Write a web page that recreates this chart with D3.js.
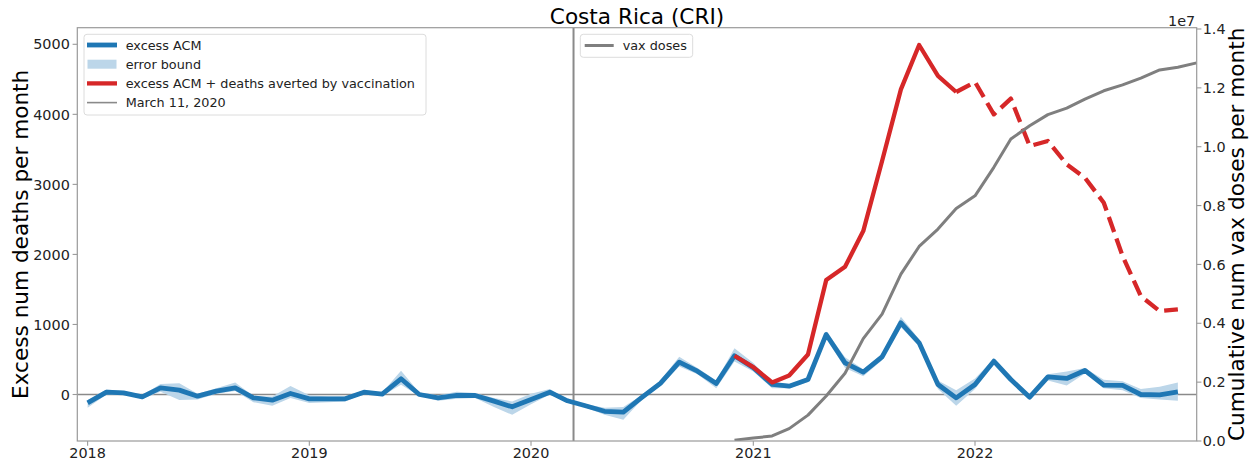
<!DOCTYPE html>
<html>
<head>
<meta charset="utf-8">
<script src="https://cdn.jsdelivr.net/npm/d3@7"></script>
<style>
  body { margin: 0; background: #fff; }
  svg { display: block; font-family: "DejaVu Sans", sans-serif; }
</style>
</head>
<body>
<svg id="chart" width="1259" height="466"></svg>
<script>
// ---------------- data ----------------
const monthsStart = "2018-01"; // monthly series start
const excessACM = [
  -119, 33, 24, -33, 95, 62, -24, 48, 95, -48, -81, 14,
  -62, -62, -62, 33, 5, 224, 0, -48, -14, -14, -95, -176,
  -71, 33, -90, -165, -240, -252, -45, 160, 462, 333, 157, 553,
  381, 143, 119, 214, 857, 452, 319, 538, 1024, 738, 143, -48,
  143, 476, 214, -38, 252, 229, 343, 133, 129, 0, -5, 38
];
const errLow = [
  -190, 0, 0, -60, 40, -80, -70, 10, 50, -110, -160, -50,
  -120, -110, -100, 10, -20, 140, -20, -90, -60, -50, -180, -290,
  -140, 0, -110, -190, -290, -360, -80, 120, 400, 290, 90, 470,
  330, 90, 90, 180, 800, 380, 260, 490, 960, 690, 80, -160,
  80, 440, 180, -70, 200, 130, 300, 90, 60, -50, -70, -90
];
const errHigh = [
  -80, 70, 50, -10, 150, 160, 10, 90, 170, -20, -30, 120,
  -10, -30, -30, 60, 30, 340, 30, -10, 40, 20, -50, -100,
  10, 80, -70, -140, -190, -180, -10, 200, 540, 380, 200, 660,
  450, 180, 150, 240, 900, 530, 360, 580, 1110, 790, 200, 60,
  230, 510, 250, -10, 290, 330, 380, 210, 190, 80, 110, 170
];
// excess ACM + deaths averted by vaccination (solid part, Dec 2020 - Dec 2021)
const avertedSolidStart = "2020-12";
const avertedSolid = [553, 390, 172, 271, 571, 1633, 1824, 2333, 3333, 4357, 4990, 4548, 4319];
// dashed part (Dec 2021 - Dec 2022)
const avertedDashedStart = "2021-12";
const avertedDashed = [4319, 4462, 4000, 4224, 3548, 3619, 3286, 3095, 2738, 1976, 1405, 1190, 1214];
// cumulative vax doses (Dec 2020 - Jan 2023)
const vaxStart = "2020-12";
const vaxDoses = [
  30000, 100000, 170000, 420000, 880000, 1530000, 2300000, 3480000, 4310000,
  5670000, 6610000, 7200000, 7900000, 8330000, 9300000, 10260000, 10710000,
  11090000, 11310000, 11620000, 11900000, 12100000, 12330000, 12610000,
  12700000, 12850000
];
const marchDate = "2020-03-11";
const leftTicks = [0, 1000, 2000, 3000, 4000, 5000];
const rightTicks = [0, 2e6, 4e6, 6e6, 8e6, 10e6, 12e6, 14e6];
const rightTickLabels = ["0.0", "0.2", "0.4", "0.6", "0.8", "1.0", "1.2", "1.4"];
const xTickYears = [2018, 2019, 2020, 2021, 2022];
const titleText = "Costa Rica (CRI)";
const legend1Labels = ["excess ACM", "error bound", "excess ACM + deaths averted by vaccination", "March 11, 2020"];
const legend2Labels = ["vax doses"];

// ---------------- helpers ----------------
function monthSeries(start, values) {
  const [y, m] = start.split("-").map(Number);
  return values.map((v, i) => ({ date: new Date(Date.UTC(y, m - 1 + i, 1)), v }));
}

// ---------------- layout ----------------
const L = 77.3, R = 1196.7, T = 27.7, B = 441;
const svg = d3.select("#chart");

const x = d3.scaleUtc()
  .domain([new Date(Date.UTC(2017, 11, 15)), new Date(Date.UTC(2023, 0, 1))])
  .range([L, R]);
const y = d3.scaleLinear().domain([-664, 5237]).range([B, T]);
const y2 = d3.scaleLinear().domain([0, 1.4044e7]).range([B, T]);

const BLUE = "#1f77b4", RED = "#d62728", GRAY = "#7f7f7f", BAND = "#bcd6e9";
const SPINE = "#9a9a9a", TXT = "#222";

svg.append("defs").append("clipPath").attr("id", "clip")
  .append("rect").attr("x", L).attr("y", T).attr("width", R - L).attr("height", B - T);

const plot = svg.append("g").attr("clip-path", "url(#clip)");

// reference lines
plot.append("line")
  .attr("x1", L).attr("x2", R).attr("y1", y(0)).attr("y2", y(0))
  .attr("stroke", "#8a8a8a").attr("stroke-width", 1.7);
const md = new Date(marchDate + "T00:00:00Z");
plot.append("line")
  .attr("x1", x(md)).attr("x2", x(md)).attr("y1", T).attr("y2", B)
  .attr("stroke", "#8a8a8a").attr("stroke-width", 2);

// error band
const acm = monthSeries(monthsStart, excessACM);
const band = acm.map((d, i) => ({ date: d.date, lo: errLow[i], hi: errHigh[i] }));
plot.append("path").datum(band)
  .attr("fill", BAND)
  .attr("d", d3.area().x(d => x(d.date)).y0(d => y(d.lo)).y1(d => y(d.hi)));

// blue line
const line = d3.line().x(d => x(d.date)).y(d => y(d.v));
plot.append("path").datum(acm)
  .attr("fill", "none").attr("stroke", BLUE).attr("stroke-width", 4.8)
  .attr("stroke-linejoin", "round").attr("d", line);

// red lines
plot.append("path").datum(monthSeries(avertedSolidStart, avertedSolid))
  .attr("fill", "none").attr("stroke", RED).attr("stroke-width", 4.3)
  .attr("stroke-linejoin", "round").attr("d", line);
plot.append("path").datum(monthSeries(avertedDashedStart, avertedDashed))
  .attr("fill", "none").attr("stroke", RED).attr("stroke-width", 4.3)
  .attr("stroke-dasharray", "15.9,6.9").attr("stroke-linejoin", "round")
  .attr("d", line);

// vax doses
const line2 = d3.line().x(d => x(d.date)).y(d => y2(d.v));
plot.append("path").datum(monthSeries(vaxStart, vaxDoses))
  .attr("fill", "none").attr("stroke", GRAY).attr("stroke-width", 3)
  .attr("stroke-linejoin", "round").attr("d", line2);

// spines
svg.append("rect").attr("x", L).attr("y", T).attr("width", R - L).attr("height", B - T)
  .attr("fill", "none").attr("stroke", SPINE).attr("stroke-width", 1.2);

// left axis
const gl = svg.append("g");
leftTicks.forEach(t => {
  gl.append("line").attr("x1", L - 4.7).attr("x2", L).attr("y1", y(t)).attr("y2", y(t))
    .attr("stroke", SPINE).attr("stroke-width", 1.1);
  gl.append("text").attr("x", L - 7.5).attr("y", y(t)).attr("dy", "0.36em")
    .attr("text-anchor", "end").attr("font-size", 14.4).attr("fill", TXT).text(t);
});
// right axis
rightTicks.forEach((t, i) => {
  gl.append("line").attr("x1", R).attr("x2", R + 4.7).attr("y1", y2(t)).attr("y2", y2(t))
    .attr("stroke", SPINE).attr("stroke-width", 1.1);
  gl.append("text").attr("x", R + 6).attr("y", y2(t)).attr("dy", "0.36em")
    .attr("text-anchor", "start").attr("font-size", 14.4).attr("fill", TXT).text(rightTickLabels[i]);
});
gl.append("text").attr("x", R - 1.5).attr("y", T - 2).attr("text-anchor", "end")
  .attr("font-size", 14.4).attr("fill", TXT).text("1e7");
// x axis
xTickYears.forEach(yr => {
  const d = new Date(Date.UTC(yr, 0, 1));
  gl.append("line").attr("x1", x(d)).attr("x2", x(d)).attr("y1", B).attr("y2", B + 4.7)
    .attr("stroke", SPINE).attr("stroke-width", 1.1);
  gl.append("text").attr("x", x(d)).attr("y", B + 17.3)
    .attr("text-anchor", "middle").attr("font-size", 14.4).attr("fill", TXT).text(yr);
});

// axis titles
svg.append("text").attr("transform", `translate(28.3,${(T + B) / 2}) rotate(-90)`)
  .attr("text-anchor", "middle").attr("font-size", 21.6).attr("fill", "#000")
  .text("Excess num deaths per month");
svg.append("text").attr("transform", `translate(1243.5,${(T + B) / 2}) rotate(-90)`)
  .attr("text-anchor", "middle").attr("font-size", 21.6).attr("fill", "#000")
  .text("Cumulative num vax doses per month");
svg.append("text").attr("x", (L + R) / 2).attr("y", 24)
  .attr("text-anchor", "middle").attr("font-size", 21.6).attr("fill", "#000")
  .text(titleText);

// legend 1
const lg1 = svg.append("g");
lg1.append("rect").attr("x", 84).attr("y", 34.3).attr("width", 342).attr("height", 80.7)
  .attr("rx", 3).attr("fill", "#fff").attr("fill-opacity", 0.85)
  .attr("stroke", "#dcdcdc").attr("stroke-width", 1);
const rowY = [45, 64.2, 83.4, 102.6];
lg1.append("line").attr("x1", 87).attr("x2", 117).attr("y1", rowY[0]).attr("y2", rowY[0])
  .attr("stroke", BLUE).attr("stroke-width", 4.8);
lg1.append("rect").attr("x", 87.5).attr("y", rowY[1] - 4.5).attr("width", 29).attr("height", 9)
  .attr("fill", BAND);
lg1.append("line").attr("x1", 87).attr("x2", 117).attr("y1", rowY[2]).attr("y2", rowY[2])
  .attr("stroke", RED).attr("stroke-width", 4.3);
lg1.append("line").attr("x1", 87).attr("x2", 117).attr("y1", rowY[3]).attr("y2", rowY[3])
  .attr("stroke", "#8a8a8a").attr("stroke-width", 1.6);
legend1Labels.forEach((t, i) => {
  lg1.append("text").attr("x", 125.7).attr("y", rowY[i]).attr("dy", "0.36em")
    .attr("font-size", 12.8).attr("fill", TXT).text(t);
});

// legend 2
const lg2 = svg.append("g");
lg2.append("rect").attr("x", 580.3).attr("y", 34.3).attr("width", 112.4).attr("height", 23)
  .attr("rx", 3).attr("fill", "#fff").attr("fill-opacity", 0.85)
  .attr("stroke", "#dcdcdc").attr("stroke-width", 1);
lg2.append("line").attr("x1", 584.7).attr("x2", 613.7).attr("y1", 45.5).attr("y2", 45.5)
  .attr("stroke", GRAY).attr("stroke-width", 3);
lg2.append("text").attr("x", 622.7).attr("y", 45.5).attr("dy", "0.36em")
  .attr("font-size", 12.8).attr("fill", TXT).text(legend2Labels[0]);
</script>
</body>
</html>
